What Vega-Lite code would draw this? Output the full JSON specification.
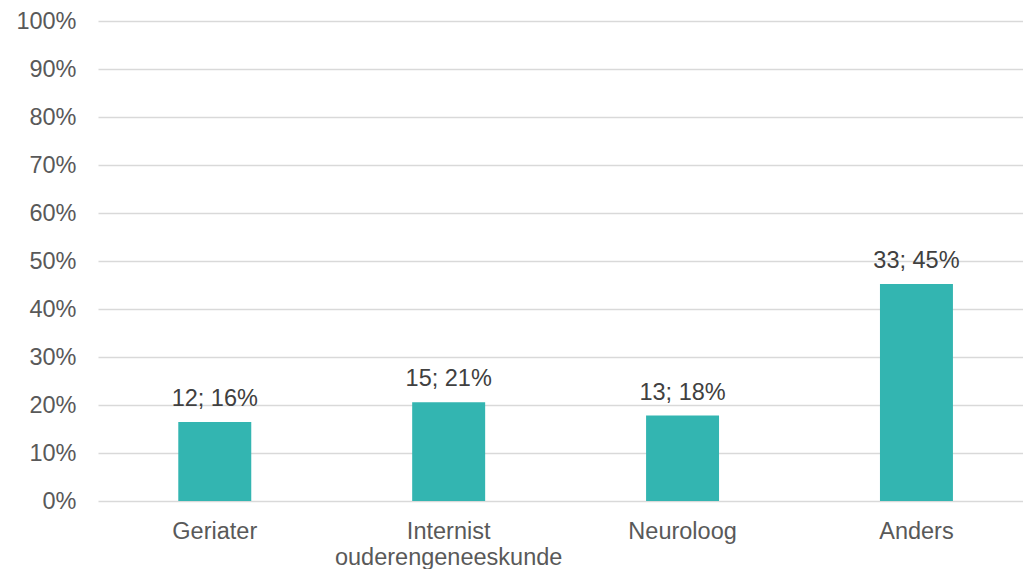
{
  "$schema": "https://vega.github.io/schema/vega-lite/v6.json",
  "autosize": "none",
  "padding": {"left": 98, "top": 21, "right": 0, "bottom": 68},
  "width": 925,
  "height": 480,
  "background": "white",
  "config": {
    "view": {"stroke": null},
    "font": "Liberation Sans"
  },
  "data": {
    "values": [
      {"category": "Geriater", "n": 12, "pct": 0.1644, "label": "12; 16%"},
      {"category": "Internist\nouderengeneeskunde", "n": 15, "pct": 0.2055, "label": "15; 21%"},
      {"category": "Neuroloog", "n": 13, "pct": 0.1781, "label": "13; 18%"},
      {"category": "Anders", "n": 33, "pct": 0.4521, "label": "33; 45%"}
    ]
  },
  "encoding": {
    "x": {
      "field": "category",
      "type": "nominal",
      "sort": null,
      "scale": {"paddingInner": 0.688, "paddingOuter": 0.3214, "align": 0.534},
      "axis": {
        "title": null,
        "labelAngle": 0,
        "labelExpr": "split(datum.label, '\\n')",
        "labelFont": "Liberation Sans",
        "labelFontSize": 23.5,
        "labelColor": "#595959",
        "labelPadding": 18,
        "labelLineHeight": 26,
        "labelLimit": 400,
        "ticks": false,
        "domain": false,
        "grid": false
      }
    },
    "y": {
      "field": "pct",
      "type": "quantitative",
      "scale": {"domain": [0, 1], "nice": false},
      "axis": {
        "title": null,
        "format": ".0%",
        "values": [0, 0.1, 0.2, 0.3, 0.4, 0.5, 0.6, 0.7, 0.8, 0.9, 1],
        "labelFont": "Liberation Sans",
        "labelFontSize": 23.5,
        "labelColor": "#595959",
        "labelPadding": 22,
        "ticks": false,
        "domain": false,
        "grid": true,
        "gridColor": "#d9d9d9",
        "gridWidth": 1.5
      }
    }
  },
  "layer": [
    {"mark": {"type": "bar", "color": "#33b5b1"}},
    {
      "mark": {"type": "text", "baseline": "alphabetic", "dy": -16, "fontSize": 23.5, "color": "#404040", "font": "Liberation Sans"},
      "encoding": {"text": {"field": "label"}}
    }
  ]
}
